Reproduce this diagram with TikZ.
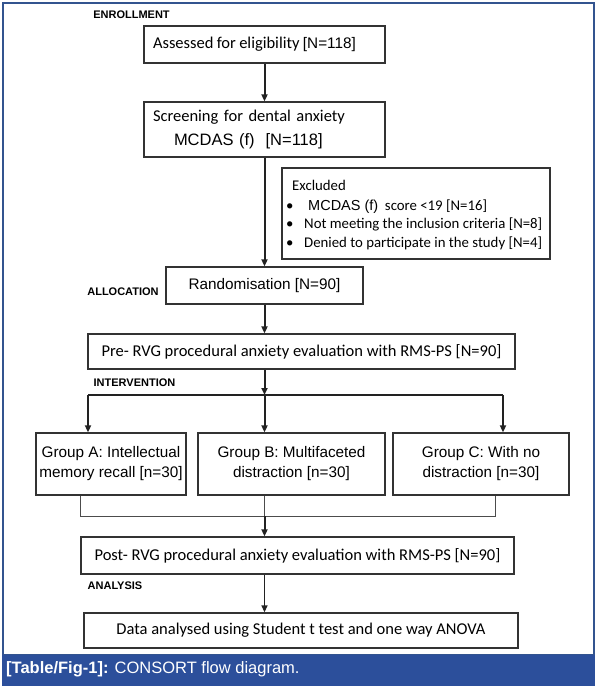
\documentclass[tikz,border=0pt]{standalone}
\usepackage{fontspec}
\setmainfont{Carlito}
\newfontfamily\arifont{Liberation Sans}
\usetikzlibrary{arrows.meta}
\definecolor{framecol}{HTML}{33548F}
\definecolor{bandcol}{HTML}{2C4F9B}
\definecolor{linecol}{HTML}{222222}
\definecolor{boxline}{HTML}{333333}
\newcommand\calsz{\fontsize{16.5}{19}\selectfont}
\newcommand\arisz{\arifont\fontsize{15.3}{20}\selectfont}
\newcommand\exsz{\fontsize{14.8}{17}\selectfont}
\tikzset{
  box/.style={draw=boxline, line width=1.3pt, inner sep=0pt, text=black},
  stagelbl/.style={font=\arifont\bfseries\fontsize{11}{13}\selectfont, inner sep=0pt},
  flowarr/.style={draw=linecol, line width=2pt, -{Triangle[length=7pt,width=6pt]}},
  flowline/.style={draw=linecol, line width=2pt},
  thinline/.style={draw=black!70, line width=0.9pt},
  midarr/.style={draw=linecol, line width=1.4pt, -{Triangle[length=7pt,width=6pt]}},
  extext/.style={anchor=base west, inner sep=0pt, font=\exsz},
}
\begin{document}
\begin{tikzpicture}[x=1pt,y=-1pt]
\useasboundingbox (0,0) rectangle (597,686);
% frame and caption band
\draw[framecol, line width=1.2pt] (3,3) rectangle (594,655);
\fill[bandcol] (2,655) rectangle (595,686);
\node[anchor=west, inner sep=0pt, text=white, font=\arifont\fontsize{16.5}{19}\selectfont] (cap) at (6,669) {\textbf{[Table/Fig-1]:} CONSORT flow diagram.};

% stage labels
\node[stagelbl] (l1) at (131.5,15) {ENROLLMENT};
\node[stagelbl] (l2) at (123,292) {ALLOCATION};
\node[stagelbl] (l3) at (134.5,383) {INTERVENTION};
\node[stagelbl] (l4) at (115,586) {ANALYSIS};

% boxes
\node[box, minimum width=241pt, minimum height=37pt, text width=223pt, align=left] (b1) at (264.5,44.5)
  {{\calsz Assessed for eligibility}{\arisz\ [N=118]}};
\node[box, minimum width=241pt, minimum height=55pt, text width=223pt, align=left, font=\fontsize{16.5}{24}\selectfont] (b2) at (264.5,129.5)
  {{\calsz Screening for dental anxiety}\\\hspace*{21pt}{\arifont\fontsize{16.5}{20}\selectfont MCDAS (f)\ \ [N=118]}};

\node[box, minimum width=268pt, minimum height=91pt] (ex) at (416,213.5) {};
\node[extext] (ex0) at (292,190) {Excluded};
\node[extext] (bu1) at (286,210) {\textbullet};
\node[extext] (bu2) at (286,228) {\textbullet};
\node[extext] (bu3) at (286,247) {\textbullet};
\node[extext] (ex1) at (308,210) {{\arifont\fontsize{14.5}{17}\selectfont MCDAS (f)}\ \ score <19 [N=16]};
\node[extext] (ex2) at (304,228) {Not meeting the inclusion criteria [N=8]};
\node[extext] (ex3) at (304,247) {Denied to participate in the study [N=4]};

\node[box, minimum width=197pt, minimum height=37pt, font=\arisz] (rd) at (264.5,285.5) {Randomisation [N=90]};
\node[box, minimum width=427pt, minimum height=35pt, font=\calsz] (pre) at (301.5,351.5) {Pre- RVG procedural anxiety evaluation with RMS-PS [N=90]};

\node[box, minimum width=150pt, minimum height=62pt, align=center, font=\arisz] (ga) at (111,464) {Group A: Intellectual\\memory recall [n=30]};
\node[box, minimum width=187pt, minimum height=62pt, align=center, font=\arisz] (gb) at (291.5,464) {Group B: Multifaceted\\distraction [n=30]};
\node[box, minimum width=176pt, minimum height=62pt, align=center, font=\arisz] (gc) at (481,464) {Group C: With no\\distraction [n=30]};

\node[box, minimum width=433pt, minimum height=37pt, font=\calsz] (post) at (297.5,555.5) {Post- RVG procedural anxiety evaluation with RMS-PS [N=90]};
\node[box, minimum width=434pt, minimum height=35pt, font=\calsz] (data) at (301,630.5) {Data analysed using Student t test and one way ANOVA};

% coordinates
\coordinate (br) at (264.5,395);
\coordinate (brA) at (88,395);
\coordinate (brC) at (503,395);
\coordinate (mg) at (264.5,516);
\coordinate (mgA) at (80,516);
\coordinate (mgC) at (495,516);

% connectors
\draw[flowarr] (b1.south) -- (b2.north);
\draw[flowarr] (b2.south) -- (rd.north);
\draw[flowarr] (rd.south) -- (rd.south |- pre.north);
\draw[flowarr] (rd.south |- pre.south) -- (br);
\draw[flowline] (brA) -- (brC);
\draw[flowarr] (brA) -- (brA |- ga.north);
\draw[flowarr] (br) -- (br |- gb.north);
\draw[flowarr] (brC) -- (brC |- gc.north);
\draw[thinline] (mgA |- ga.south) -- (mgA) -- (mgC) -- (mgC |- gc.south);
\draw[thinline] (mg |- gb.south) -- (mg);
\draw[flowarr] (mg) -- (mg |- post.north);
\draw[midarr] (mg |- post.south) -- (mg |- data.north);
\end{tikzpicture}
\end{document}
